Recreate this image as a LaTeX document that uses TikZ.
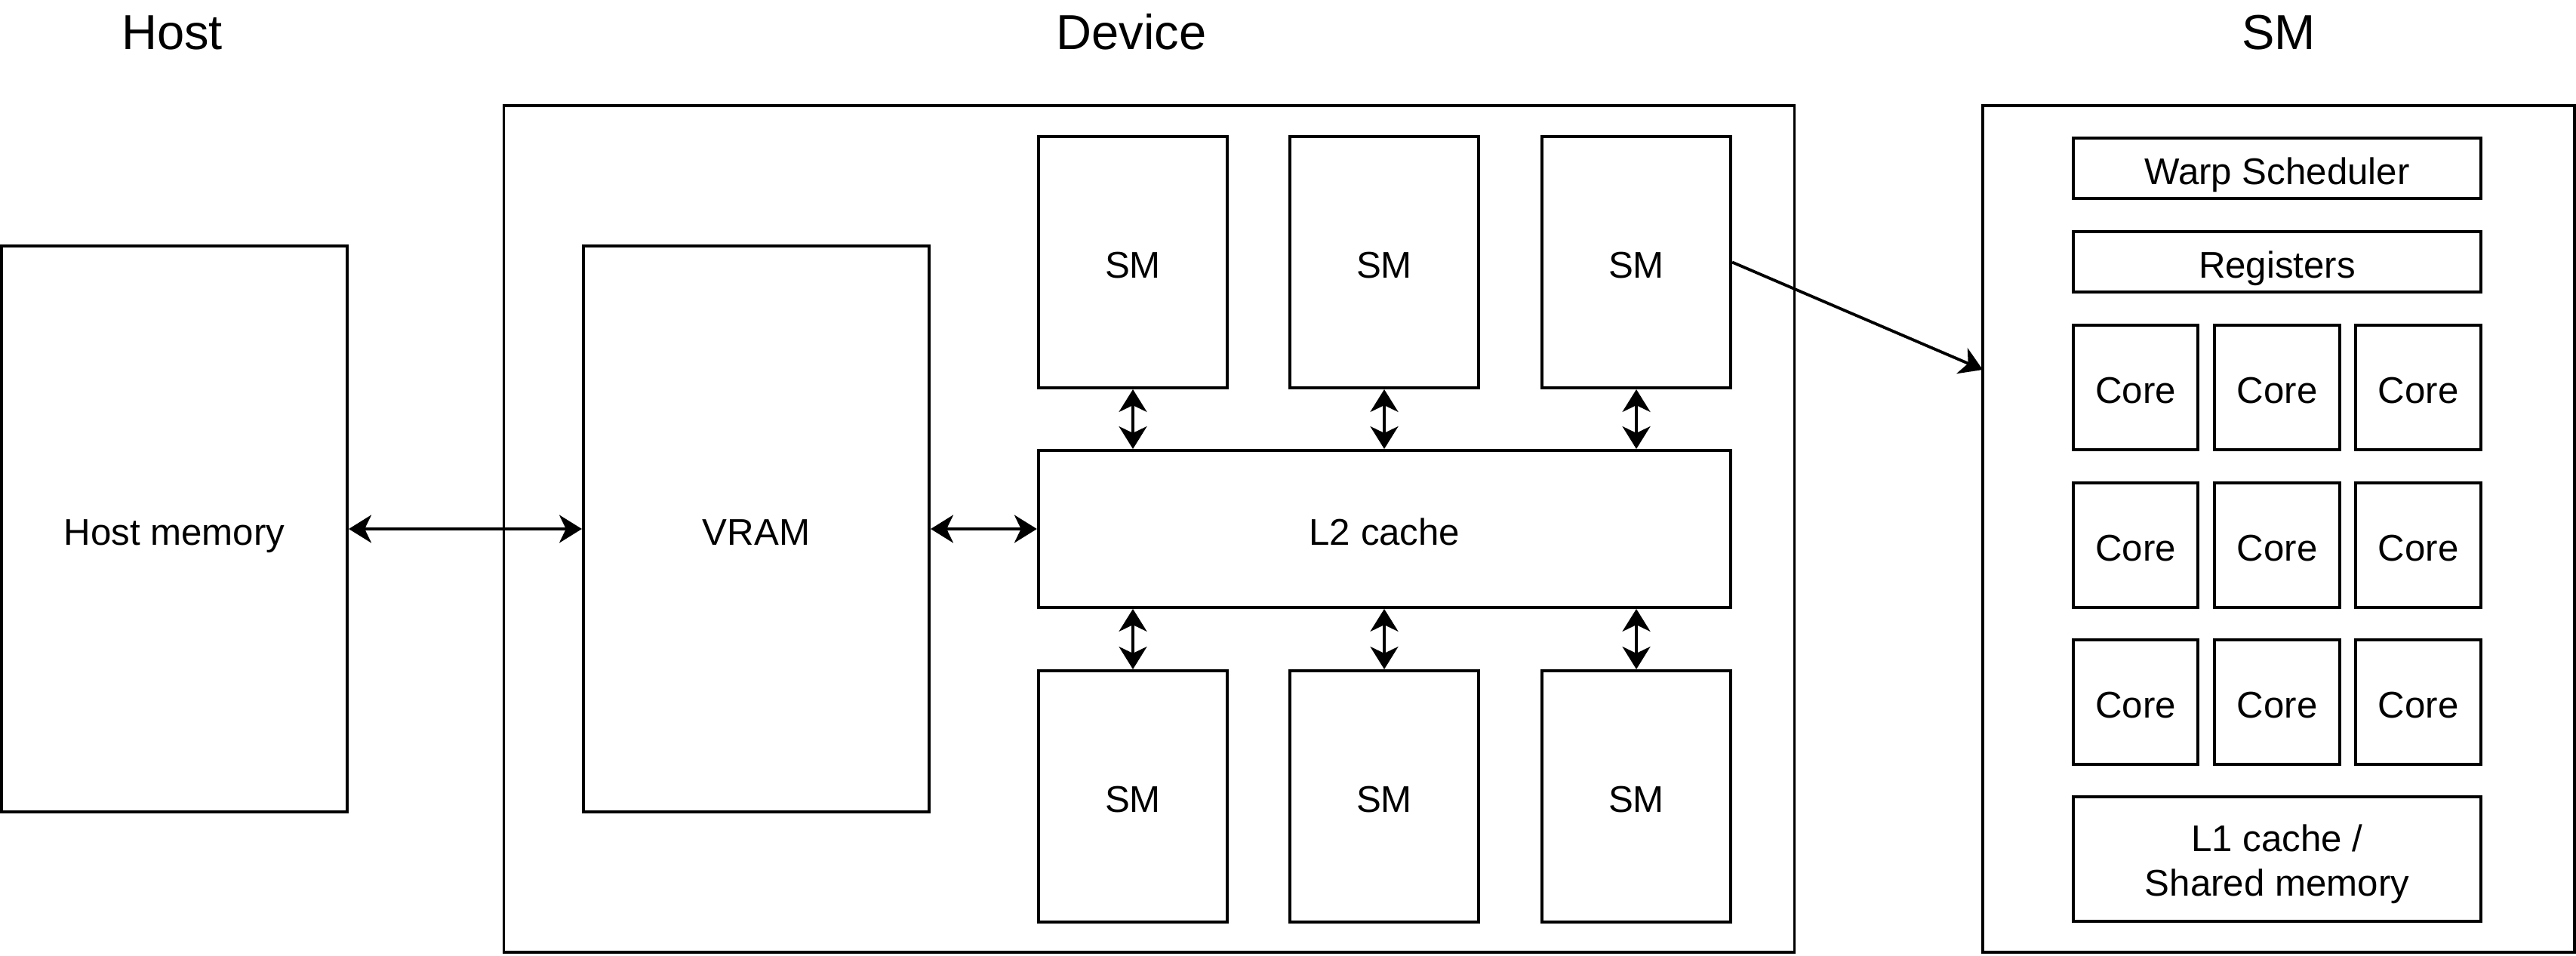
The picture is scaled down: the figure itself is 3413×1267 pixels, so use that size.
\documentclass[tikz,border=0pt]{standalone}
\usepackage{fontspec}
\setmainfont{Liberation Sans}
\usetikzlibrary{arrows.meta}
\newcommand\mkbox[7][]{%
  \pgfmathsetmacro\mkW{(#5-#3)/100}%
  \pgfmathsetmacro\mkH{(#6-#4)/100}%
  \pgfmathsetmacro\mkX{(#3+#5)/2}%
  \pgfmathsetmacro\mkY{(#4+#6)/2}%
  \node[blk,#1,minimum width=\mkW cm,minimum height=\mkH cm] (#2) at (\mkX,\mkY) {#7};}
\tikzset{
  blk/.style={draw, line width=1.1pt, inner sep=0pt, align=center,
    font=\fontsize{14}{16.8}\selectfont, text height=12pt, text depth=0pt},
  ttl/.style={font=\fontsize{18.5}{22}\selectfont, anchor=base, inner sep=0pt},
  dbl/.style={line width=1.1pt, {Stealth[length=8.5pt,width=10.5pt,inset=2.5pt]}-{Stealth[length=8.5pt,width=10.5pt,inset=2.5pt]}},
  one/.style={line width=1.1pt, -{Stealth[length=8.5pt,width=10.5pt,inset=2.5pt]}}
}
\begin{document}
\begin{tikzpicture}[x=0.01cm,y=-0.01cm]
\useasboundingbox (0,0) rectangle (3413,1267);
% titles
\node[ttl] (thost) at (228,66) {Host};
\node[ttl] (tdev) at (1499,66) {Device};
\node[ttl] (tsm) at (3019,66) {SM};
% host and device
\mkbox{hm}{2}{326}{460}{1076}{Host memory}
\mkbox{dev}{668}{140}{2377}{1262}{}
\mkbox{vram}{773}{326}{1231}{1076}{VRAM}
\mkbox{t1}{1376}{181}{1626}{514}{SM}
\mkbox{t2}{1709}{181}{1959}{514}{SM}
\mkbox{t3}{2043}{181}{2293}{514}{SM}
\mkbox{l2}{1376}{597}{2293}{805}{L2 cache}
\mkbox{b1}{1376}{889}{1626}{1222}{SM}
\mkbox{b2}{1709}{889}{1959}{1222}{SM}
\mkbox{b3}{2043}{889}{2293}{1222}{SM}
% SM detail
\mkbox{smo}{2627}{140}{3411}{1262}{}
\mkbox{ws}{2747}{183}{3287}{263}{Warp Scheduler}
\mkbox{reg}{2747}{307}{3287}{387}{Registers}
\mkbox{c11}{2747}{431}{2912}{596}{Core}
\mkbox{c12}{2934}{431}{3100}{596}{Core}
\mkbox{c13}{3121}{431}{3287}{596}{Core}
\mkbox{c21}{2747}{640}{2912}{805}{Core}
\mkbox{c22}{2934}{640}{3100}{805}{Core}
\mkbox{c23}{3121}{640}{3287}{805}{Core}
\mkbox{c31}{2747}{848}{2912}{1013}{Core}
\mkbox{c32}{2934}{848}{3100}{1013}{Core}
\mkbox{c33}{3121}{848}{3287}{1013}{Core}
\mkbox[text height=,text depth=]{l1}{2747}{1056}{3287}{1221}{\rule{0pt}{14.2pt}L1 cache /\\Shared memory}
% connectors
\draw[dbl] (hm.east) -- (vram.west);
\draw[dbl] (vram.east) -- (l2.west);
\foreach \s in {t1,t2,t3} \draw[dbl] (\s.south) -- (\s.south |- l2.north);
\foreach \s in {b1,b2,b3} \draw[dbl] (\s.north |- l2.south) -- (\s.north);
\coordinate (smin) at (2627,490);
\draw[one] (t3.east) -- (smin);
\end{tikzpicture}
\end{document}
